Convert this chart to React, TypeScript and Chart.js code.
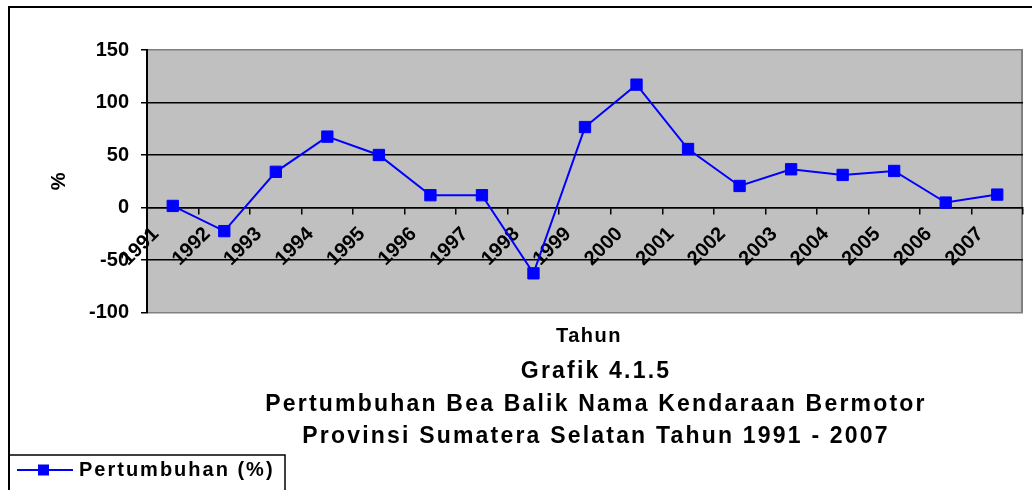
import React, { useEffect, useRef } from 'react';
import { Chart, registerables } from 'chart.js';

Chart.register(...registerables);

const years = ['1991', '1992', '1993', '1994', '1995', '1996', '1997', '1998', '1999', '2000', '2001', '2002', '2003', '2004', '2005', '2006', '2007'];
const growth = [1.5, -22.5, 34, 67.5, 50, 11.7, 11.7, -62.7, 76.6, 117, 55.7, 20.5, 36.4, 31, 34.8, 4.7, 12.3];
const yMin = -100;
const yMax = 150;
const yStep = 50;
const seriesLabel = 'Pertumbuhan (%)';
const xTitle = 'Tahun';
const yTitle = '%';
const titleLines = [
  'Grafik 4.1.5',
  'Pertumbuhan Bea Balik Nama Kendaraan Bermotor',
  'Provinsi Sumatera Selatan Tahun 1991 - 2007',
];

const FAMILY = "'Liberation Sans', Arial, sans-serif";

function withSpacing(box: any, sp: string) {
  if (!box || box.__spaced) return;
  const orig = box.draw;
  box.draw = function (...args: any[]) {
    const c = this.ctx;
    const prev = c.letterSpacing;
    c.letterSpacing = sp;
    try {
      orig.apply(this, args);
    } finally {
      c.letterSpacing = prev;
    }
  };
  box.__spaced = true;
}

const decor = {
  id: 'decor',
  afterLayout(chart: any) {
    for (const b of chart.boxes) {
      if (b === chart.titleBlock) {
        b.left += 22;
        withSpacing(b, '2.2px');
      } else if (b.options && b.options.text === xTitle) {
        b.left += 8;
        withSpacing(b, '1.5px');
      } else if (b === chart.legend) {
        withSpacing(b, '2px');
      }
    }
  },
  beforeDraw(chart: any) {
    const { ctx, chartArea: a } = chart;
    ctx.save();
    ctx.fillStyle = '#ffffff';
    ctx.fillRect(0, 0, chart.width, chart.height);
    ctx.fillStyle = '#C0C0C0';
    ctx.fillRect(a.left, a.top, a.right - a.left, a.bottom - a.top);
    ctx.strokeStyle = '#808080';
    ctx.lineWidth = 2;
    ctx.beginPath();
    ctx.moveTo(a.right - 1, a.top);
    ctx.lineTo(a.right - 1, a.bottom);
    ctx.stroke();
    ctx.restore();
  },
  afterDraw(chart: any) {
    const { ctx } = chart;
    ctx.save();
    ctx.strokeStyle = '#000';
    ctx.lineWidth = 2;
    ctx.strokeRect(9, 7, 1200, 700);
    const lg = chart.legend;
    if (lg) {
      ctx.lineWidth = 1.5;
      ctx.strokeRect(9, 455, 276, 100);
      const hb = lg.legendHitBoxes && lg.legendHitBoxes[0];
      if (hb) {
        const cy = hb.top + hb.height / 2;
        ctx.strokeStyle = '#0000FF';
        ctx.lineWidth = 2;
        ctx.beginPath();
        ctx.moveTo(17, cy);
        ctx.lineTo(73, cy);
        ctx.stroke();
        ctx.fillStyle = '#0000FF';
        ctx.fillRect(38, cy - 5.5, 11, 11);
      }
    }
    ctx.restore();
  },
};

export default function App() {
  const ref = useRef<HTMLCanvasElement | null>(null);

  useEffect(() => {
    if (!ref.current) return;
    const chart = new Chart(ref.current, {
      type: 'line',
      data: {
        labels: years,
        datasets: [
          {
            label: seriesLabel,
            data: growth,
            borderColor: '#0000FF',
            backgroundColor: '#0000FF',
            borderWidth: 2,
            pointStyle: 'rect',
            pointRadius: 8,
            pointBorderWidth: 1,
            pointBackgroundColor: '#0000FF',
            pointBorderColor: '#0000FF',
            tension: 0,
          },
        ],
      },
      options: {
        animation: false,
        responsive: false,
        devicePixelRatio: 1,
        layout: { padding: { top: 50, left: 0, right: 1, bottom: 0 } },
        scales: {
          x: {
            type: 'category',
            position: { y: 0 },
            offset: true,
            afterFit: (s: any) => {
              s.height = 0;
            },
            grid: {
              display: true,
              offset: true,
              drawOnChartArea: false,
              drawTicks: true,
              tickLength: 6,
              color: '#000',
              tickColor: '#000',
              lineWidth: 1.5,
            },
            border: { display: true, color: '#000', width: 1.5 },
            ticks: {
              autoSkip: false,
              maxRotation: 45,
              minRotation: 45,
              labelOffset: -17,
              padding: 9,
              color: '#000',
              font: { family: FAMILY, size: 20, weight: 'bold' },
            },
            title: { display: false },
          },
          y: {
            min: yMin,
            max: yMax,
            afterFit: (s: any) => {
              s.width = 147;
            },
            ticks: {
              stepSize: yStep,
              padding: 12,
              color: '#000',
              font: { family: FAMILY, size: 20, weight: 'bold' },
            },
            grid: {
              color: (c: any) => (c.tick && (c.tick.value === yMax || c.tick.value === yMin) ? '#808080' : '#000'),
              tickColor: '#000',
              lineWidth: 1.5,
              tickLength: 6,
              drawTicks: true,
            },
            border: { display: true, color: '#000', width: 2 },
            title: {
              display: true,
              text: yTitle,
              color: '#000',
              font: { family: FAMILY, size: 20, weight: 'bold' },
              padding: { top: 47, bottom: 0 },
            },
          },
        },
        plugins: {
          legend: {
            display: true,
            position: 'bottom',
            align: 'start',
            weight: 3000,
            labels: {
              color: '#000',
              font: { family: FAMILY, size: 20, weight: 'bold' },
              boxWidth: 62,
              boxHeight: 20,
              padding: 7,
              generateLabels: (ch: any) =>
                Chart.defaults.plugins.legend.labels.generateLabels(ch).map((l: any) => ({
                  ...l,
                  fillStyle: 'rgba(0,0,0,0)',
                  strokeStyle: 'rgba(0,0,0,0)',
                  lineWidth: 0,
                })),
            },
          },
          subtitle: {
            display: true,
            position: 'bottom',
            fullSize: false,
            weight: 1500,
            text: xTitle,
            color: '#000',
            font: { family: FAMILY, size: 20, weight: 'bold', lineHeight: 1.2 },
            padding: { top: 12, bottom: 0 },
          },
          title: {
            display: true,
            position: 'bottom',
            fullSize: false,
            weight: 2000,
            text: titleLines,
            color: '#000',
            font: { family: FAMILY, size: 23, weight: 'bold', lineHeight: 1.413 },
            padding: { top: 7, bottom: 0 },
          },
          tooltip: { enabled: false },
        },
      },
      plugins: [decor],
    } as any);
    return () => chart.destroy();
  }, []);

  return (
    <div style={{ position: 'absolute', left: 0, top: 0, width: 1032, height: 490 }}>
      <canvas ref={ref} width={1032} height={490} style={{ display: 'block' }} />
    </div>
  );
}
